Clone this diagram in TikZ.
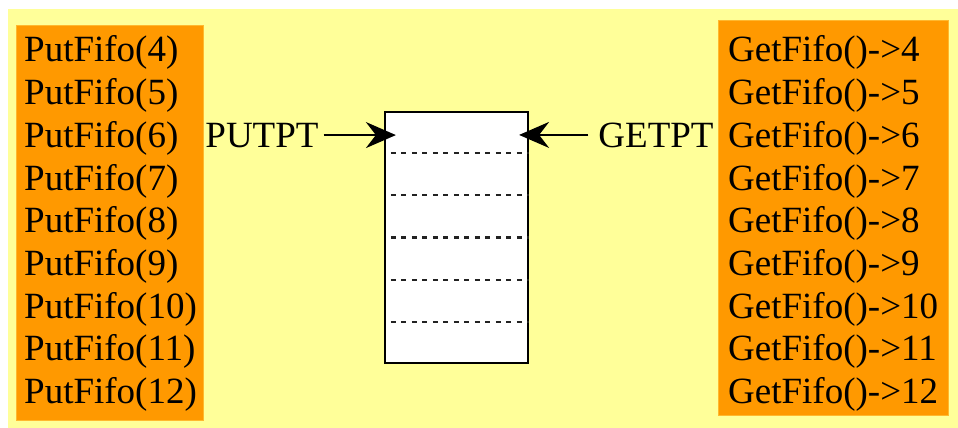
\documentclass[tikz,border=0pt]{standalone}
\usepackage{fontspec}
\setmainfont{Liberation Serif}
\usetikzlibrary{arrows.meta,calc}
\definecolor{paper}{HTML}{FFFF99}
\definecolor{box}{HTML}{FF9900}
\definecolor{slotline}{HTML}{222222}
\tikzset{
  listbox/.style={fill=box, draw=box!70!paper, line width=0.8pt},
  entry/.style={anchor=base west, inner sep=0pt, font=\fontsize{37}{44}\selectfont},
  ptr/.style={anchor=base, inner sep=0pt, font=\fontsize{37}{44}\selectfont},
  fifo/.style={draw=black, fill=white, line width=2.2pt, minimum width=143pt, minimum height=251pt, inner sep=0pt},
  slot/.style={draw=slotline, line width=2.2pt, dash pattern=on 5pt off 5.5pt},
  arr/.style={-{Stealth[length=30pt,width=26pt,inset=10pt]}, line width=2pt}
}
\begin{document}
\begin{tikzpicture}[x=1pt,y=-1pt]
  \useasboundingbox (0,0) rectangle (958,428);
  \fill[paper] (8,9) rectangle (958,428);

  % calls on both sides
  \draw[listbox] (16,25) rectangle (203,420);
  \draw[listbox] (718,20) rectangle (948,415);
  \foreach \n [count=\i from 0] in {4,...,12} {
    \node[entry] (put\n) at (24,62+42.7*\i) {PutFifo(\n)};
    \node[entry] (get\n) at (728,62+42.7*\i) {GetFifo()->\n};
  }

  % the buffer
  \node[fifo] (fifo) at (456.5,237.5) {};
  \foreach \k in {1,...,5}
    \draw[slot] ($(fifo.north west)!\k/6!(fifo.south west)+(7,0)$) -- ($(fifo.north east)!\k/6!(fifo.south east)$);

  \node[ptr] (putpt) at (262,147) {PUTPT};
  \node[ptr] (getpt) at (656,147) {GETPT};
  \draw[arr] ([xshift=5pt]putpt.east) -- ([xshift=12pt]putpt.east -| fifo.west);
  \draw[arr] ([xshift=-10pt]getpt.west) -- ([xshift=-10pt]getpt.west -| fifo.east);
\end{tikzpicture}
\end{document}
